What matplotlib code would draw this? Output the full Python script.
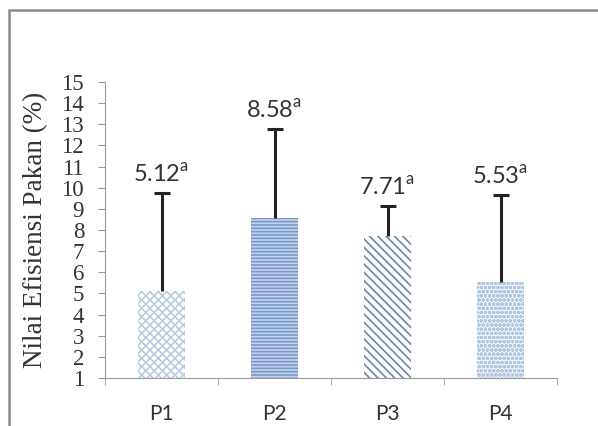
import matplotlib
matplotlib.use("Agg")
import matplotlib.pyplot as plt
from matplotlib.patches import Rectangle
import numpy as np

# data
kelompok = ["P1", "P2", "P3", "P4"]
nilai = [5.12, 8.58, 7.71, 5.53]
sd_atas = [4.63, 4.20, 1.43, 4.13]
notasi = ["a", "a", "a", "a"]

# styles per bar
hatch = ["xxxx", "-----", "\\\\\\\\", "oooo"]
warna_isi = ["#ffffff", "#c2d3ee", "#ffffff", "#f2f6fb"]
warna_garis = ["#bccbe2", "#7a97c8", "#6f86a8", "#b3c6e0"]

plt.rcParams["mathtext.fontset"] = "custom"
plt.rcParams["mathtext.rm"] = "Lato"
plt.rcParams["hatch.linewidth"] = 1.2

fig = plt.figure(figsize=(5.98, 4.26), dpi=100)
ax = fig.add_axes([105/598, 1-378/426, 452/598, 296/426])

# frame of the chart area
fig.patches.append(Rectangle((9/598, -0.2), 1.2, 1.2 - 10/426,
                             transform=fig.transFigure, fill=False,
                             edgecolor="#8a8a8a", linewidth=1.8))

x = np.arange(len(kelompok))
for i in range(len(kelompok)):
    ax.bar(x[i], nilai[i], width=0.42, color=warna_isi[i], hatch=hatch[i],
           edgecolor=warna_garis[i], linewidth=0, zorder=2)
    ax.errorbar(x[i], nilai[i], yerr=[[0], [sd_atas[i]]], fmt="none",
                ecolor="#222222", elinewidth=2.2, capsize=0, zorder=3)
    ax.plot(x[i], nilai[i] + sd_atas[i], marker="_", ms=12, mew=2.2,
            color="#222222", zorder=3)
    ax.text(x[i], nilai[i] + sd_atas[i] + 0.3,
            f"{nilai[i]:.2f}" + r"$^{\mathrm{" + notasi[i] + "}}$",
            ha="center", va="bottom", fontsize=17, family="Lato", color="#333333")

ax.set_xlim(-0.5, 3.5)
ax.set_ylim(1, 15)
ax.set_yticks(range(1, 16))
ax.set_xticks(x)
ax.set_xticklabels(kelompok, family="Lato", fontsize=15, color="#333333")
ax.set_xticks(np.arange(-0.5, 4, 1), minor=True)
ax.tick_params(axis="x", which="major", length=0, pad=19)
ax.tick_params(axis="x", which="minor", length=5, direction="out", color="#999999")
ax.tick_params(axis="y", length=5, direction="out", color="#999999", pad=10,
               labelsize=16.5, labelcolor="#333333")
for lab in ax.get_yticklabels():
    lab.set_family("Liberation Serif")

for s in ["top", "right"]:
    ax.spines[s].set_visible(False)
ax.spines["left"].set_color("#999999")
ax.spines["bottom"].set_color("#999999")

ax.set_ylabel("Nilai Efisiensi Pakan (%)", family="Liberation Serif",
              fontsize=19.5, color="#333333")
ax.yaxis.set_label_coords(-0.125, 0.5)

fig.savefig("out.png", dpi=100)
